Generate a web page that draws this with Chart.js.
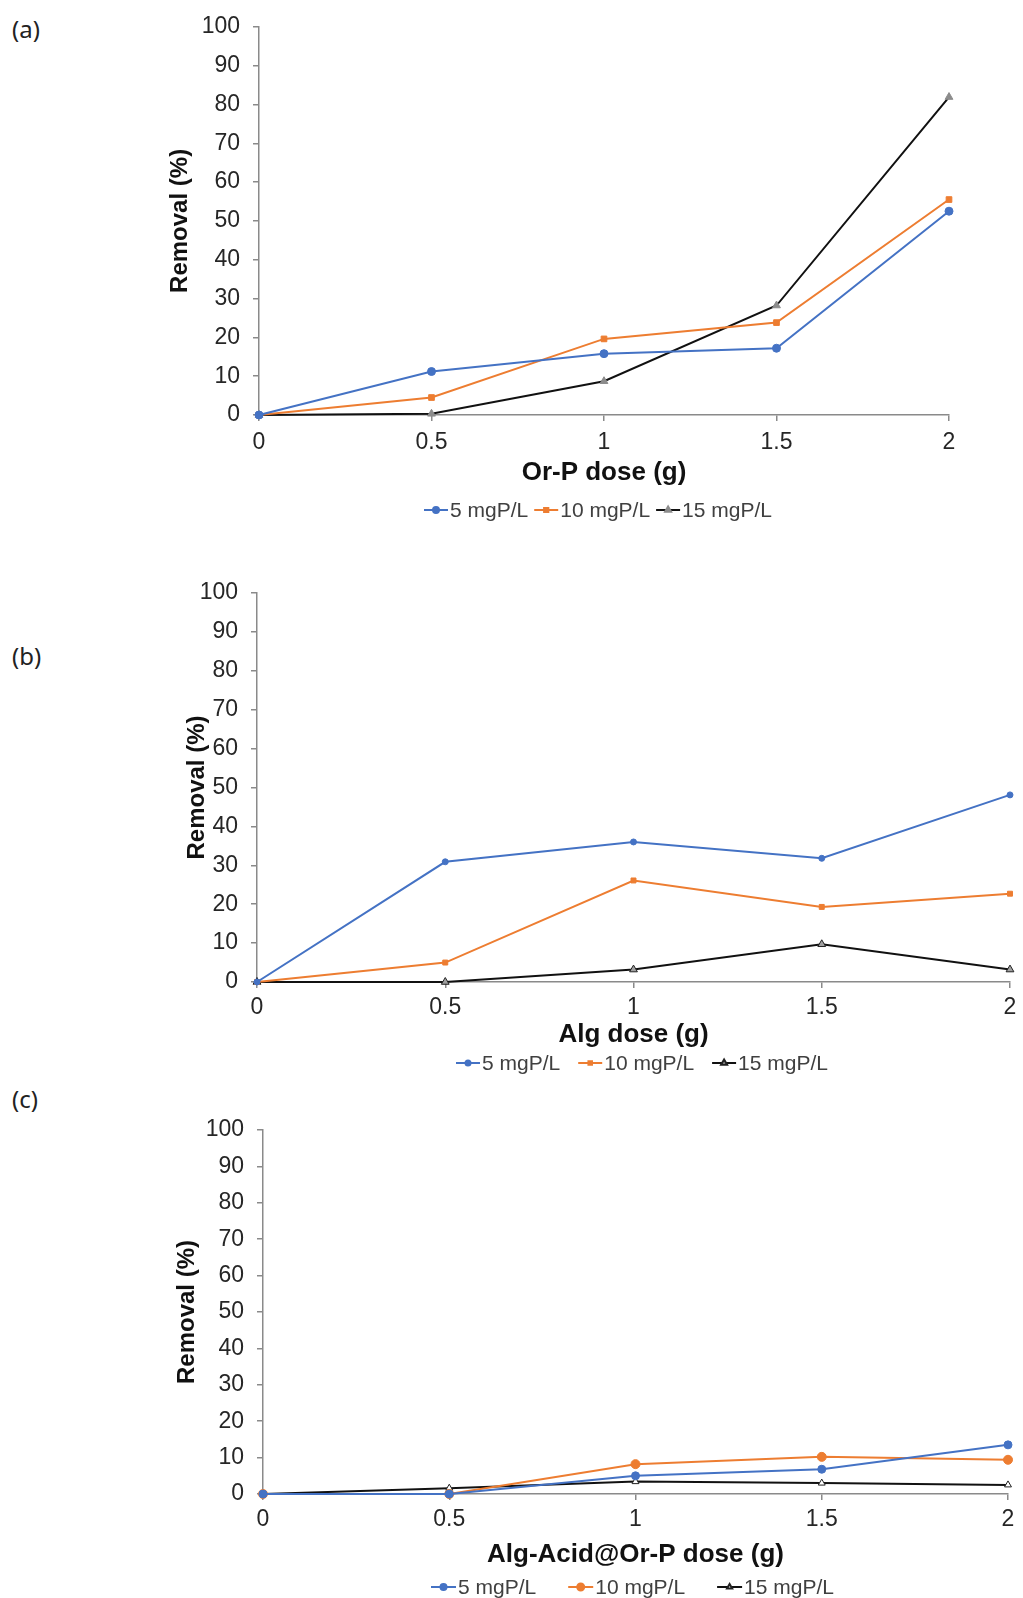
<!DOCTYPE html>
<html>
<head>
<meta charset="utf-8">
<script src="https://cdn.jsdelivr.net/npm/chart.js@4.4.0/dist/chart.umd.min.js"></script>
<style>
  body { margin: 0; background: #fff; width: 1023px; height: 1598px; position: relative; overflow: hidden; }
  .panel { position: absolute; left: 0; width: 1023px; }
  .tag { position: absolute; left: 12px; font-family: 'Noto Sans', sans-serif; font-size: 24px; line-height: 24px; color: #222; }
</style>
</head>
<body>
<div class="tag" style="top:17px">(a)</div>
<div class="tag" style="top:644px">(b)</div>
<div class="tag" style="top:1087px">(c)</div>
<div class="panel" style="top:0px;height:530px"><canvas id="chartA"></canvas></div>
<div class="panel" style="top:560px;height:520px"><canvas id="chartB"></canvas></div>
<div class="panel" style="top:1090px;height:508px"><canvas id="chartC"></canvas></div>
<script>
'use strict';

// dose on the x axis, same for all three panels
const doses = [0, 0.5, 1, 1.5, 2];
const seriesNames = ['5 mgP/L', '10 mgP/L', '15 mgP/L'];

// (a) Or-P
const orp5 = [0, 11.2, 15.8, 17.2, 52.5];
const orp10 = [0, 4.5, 19.6, 23.8, 55.5];
const orp15 = [0, 0.3, 8.7, 28.2, 81.9];

// (b) Alg
const alg5 = [0, 30.9, 36.0, 31.8, 48.1];
const alg10 = [0, 5.0, 26.1, 19.3, 22.7];
const alg15 = [0, 0, 3.2, 9.7, 3.2];

// (c) Alg-Acid@Or-P
const acid5 = [0, 0, 5.0, 6.8, 13.5];
const acid10 = [0, 0, 8.2, 10.2, 9.4];
const acid15 = [0, 1.6, 3.4, 3.0, 2.5];

const xTitles = ['Or-P dose (g)', 'Alg dose (g)', 'Alg-Acid@Or-P dose (g)'];
const yTitle = 'Removal (%)';

const BLUE = '#4472C4';
const ORANGE = '#ED7D31';
const BLACK = '#111111';
const AXIS = '#8a8a8a';
const FONT = "'Liberation Sans', Arial, sans-serif";

Chart.defaults.font.family = FONT;
Chart.defaults.color = '#262626';

function toPoints(values) {
  return doses.map((d, i) => ({ x: d, y: values[i] }));
}

// legend drawn as line + marker, like the spreadsheet legend
const lineLegend = {
  id: 'lineLegend',
  afterDraw(chart, args, opts) {
    const ctx = chart.ctx;
    ctx.save();
    ctx.font = opts.font;
    ctx.textBaseline = 'middle';
    let x = opts.x;
    chart.data.datasets.forEach(ds => {
      ctx.strokeStyle = ds.borderColor;
      ctx.lineWidth = ds.borderWidth;
      ctx.beginPath();
      ctx.moveTo(x, opts.y);
      ctx.lineTo(x + opts.lineLength, opts.y);
      ctx.stroke();
      ctx.fillStyle = ds.pointBackgroundColor;
      ctx.strokeStyle = ds.pointBorderColor;
      Chart.helpers.drawPoint(ctx, {
        pointStyle: ds.pointStyle,
        radius: Math.max(ds.pointRadius - 1, 2.5),
        borderWidth: ds.pointBorderWidth
      }, x + opts.lineLength / 2, opts.y);
      x += opts.lineLength + 2;
      ctx.fillStyle = opts.color;
      ctx.fillText(ds.label, x, opts.y + 1);
      x += ctx.measureText(ds.label).width + opts.gap;
    });
    ctx.restore();
  }
};

function makeDataset(label, values, color, style) {
  return {
    label: label,
    data: toPoints(values),
    borderColor: color,
    borderWidth: 2,
    pointStyle: style.shape,
    pointRadius: style.radius,
    pointBackgroundColor: style.fill,
    pointBorderColor: style.edge,
    pointBorderWidth: style.edgeWidth,
    clip: false,
    tension: 0
  };
}

// box values are page coordinates
function drawPanel(canvasId, panelTop, panelHeight, box, xTitle, datasets, legend) {
  const yTitleSize = 24;
  const xTitleSize = 26;
  const yLh = yTitleSize * 1.2;
  const xLh = xTitleSize * 1.2;
  const top = box.top - panelTop;
  const bottom = box.bottom - panelTop;
  const padLeft = box.yTitleX - yLh / 2;
  const xHeight = (box.xTitleY - panelTop) - bottom + xLh / 2;
  const padBottom = panelHeight - bottom - xHeight;

  new Chart(document.getElementById(canvasId), {
    type: 'line',
    data: { datasets: datasets },
    options: {
      responsive: true,
      maintainAspectRatio: false,
      animation: false,
      layout: {
        padding: { left: padLeft, top: top, right: 1023 - box.right, bottom: padBottom }
      },
      plugins: {
        legend: { display: false },
        tooltip: { enabled: false },
        lineLegend: {
          font: '21px ' + FONT,
          color: '#404040',
          x: legend.x,
          y: legend.y - panelTop,
          lineLength: legend.lineLength,
          gap: legend.gap
        }
      },
      scales: {
        x: {
          type: 'linear',
          min: 0,
          max: 2,
          afterFit: s => { s.height = xHeight; },
          ticks: {
            stepSize: 0.5, padding: box.xTickPad, font: { size: 23 }, maxRotation: 0,
            callback: v => String(v)
          },
          grid: { drawOnChartArea: false, drawTicks: true, tickLength: 6, color: AXIS, lineWidth: 1.5 },
          border: { display: true, color: AXIS, width: 1.5 },
          title: {
            display: true, text: xTitle, padding: 0,
            color: '#111', font: { size: xTitleSize, weight: 'bold' }
          }
        },
        y: {
          min: 0,
          max: 100,
          afterFit: s => { s.width = box.left - padLeft; },
          ticks: { stepSize: 10, padding: 13, font: { size: 23 } },
          grid: { drawOnChartArea: false, drawTicks: true, tickLength: 6, color: AXIS, lineWidth: 1.5 },
          border: { display: true, color: AXIS, width: 1.5 },
          title: {
            display: true, text: yTitle, padding: 0,
            color: '#111', font: { size: yTitleSize, weight: 'bold' }
          }
        }
      }
    },
    plugins: [lineLegend]
  });
}

const triGray = { shape: 'triangle', radius: 4.5, fill: '#8c8c8c', edge: '#8c8c8c', edgeWidth: 1 };

drawPanel('chartA', 0, 530,
  { left: 259, right: 949, top: 20, bottom: 415, yTitleX: 180, xTitleY: 473, xTickPad: 8 },
  xTitles[0],
  [
    makeDataset(seriesNames[0], orp5, BLUE, { shape: 'circle', radius: 4, fill: BLUE, edge: BLUE, edgeWidth: 1 }),
    makeDataset(seriesNames[1], orp10, ORANGE, { shape: 'rect', radius: 4, fill: ORANGE, edge: ORANGE, edgeWidth: 1 }),
    makeDataset(seriesNames[2], orp15, BLACK, triGray)
  ],
  { x: 424, y: 510, lineLength: 24, gap: 6 });

drawPanel('chartB', 560, 520,
  { left: 257, right: 1010, top: 593, bottom: 982, yTitleX: 197, xTitleY: 1035, xTickPad: 6 },
  xTitles[1],
  [
    makeDataset(seriesNames[0], alg5, BLUE, { shape: 'circle', radius: 3, fill: BLUE, edge: BLUE, edgeWidth: 1 }),
    makeDataset(seriesNames[1], alg10, ORANGE, { shape: 'rect', radius: 3.5, fill: ORANGE, edge: ORANGE, edgeWidth: 1 }),
    makeDataset(seriesNames[2], alg15, BLACK, { shape: 'triangle', radius: 4.5, fill: '#a0a0a0', edge: '#222', edgeWidth: 1 })
  ],
  { x: 456, y: 1063, lineLength: 24, gap: 18 });

drawPanel('chartC', 1090, 508,
  { left: 263, right: 1008, top: 1130, bottom: 1494, yTitleX: 187, xTitleY: 1555, xTickPad: 6 },
  xTitles[2],
  [
    makeDataset(seriesNames[0], acid5, BLUE, { shape: 'circle', radius: 4, fill: BLUE, edge: BLUE, edgeWidth: 1 }),
    makeDataset(seriesNames[1], acid10, ORANGE, { shape: 'circle', radius: 4.5, fill: ORANGE, edge: ORANGE, edgeWidth: 1 }),
    makeDataset(seriesNames[2], acid15, BLACK, { shape: 'triangle', radius: 4, fill: '#ffffff', edge: '#222', edgeWidth: 1 })
  ],
  { x: 431, y: 1587, lineLength: 25, gap: 32 });
</script>
</body>
</html>
